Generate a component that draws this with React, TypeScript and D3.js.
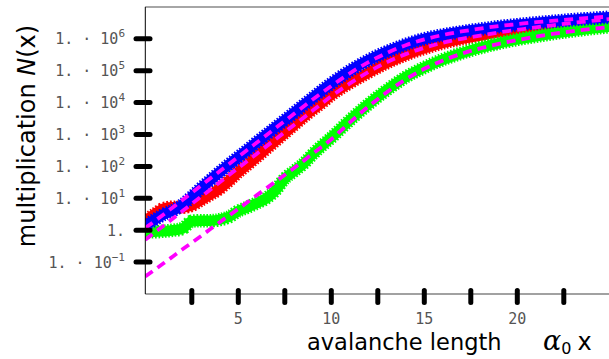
import React from "react";
import * as d3 from "d3";

// x grid for the measured (marker) series
const xData = [0, 0.5, 1, 1.5, 2, 2.5, 3, 3.5, 4, 4.5, 5, 5.5, 6, 6.5, 7, 7.5, 8, 8.5, 9, 9.5, 10, 11, 12, 13, 14, 15, 16, 17, 18, 19, 20, 21, 22, 23, 24, 25];
// log10 N(x)
const redLog = [0.3, 0.5, 0.68, 0.72, 0.72, 0.78, 0.95, 1.12, 1.3, 1.55, 1.82, 2.06, 2.3, 2.55, 2.8, 3.05, 3.3, 3.55, 3.78, 4.0, 4.24, 4.62, 4.95, 5.25, 5.5, 5.7, 5.87, 6.0, 6.1, 6.2, 6.28, 6.36, 6.43, 6.5, 6.56, 6.62];
const greenLog = [-0.05, -0.05, -0.03, 0.0, 0.05, 0.28, 0.3, 0.3, 0.33, 0.42, 0.6, 0.72, 0.85, 1.0, 1.25, 1.62, 1.85, 2.08, 2.38, 2.65, 2.9, 3.45, 3.95, 4.4, 4.8, 5.1, 5.35, 5.55, 5.72, 5.86, 5.98, 6.08, 6.17, 6.25, 6.32, 6.38];
const blueLog = [0.15, 0.33, 0.5, 0.62, 0.8, 1.05, 1.32, 1.57, 1.82, 2.06, 2.29, 2.52, 2.76, 2.99, 3.22, 3.45, 3.68, 3.92, 4.15, 4.38, 4.6, 5.0, 5.33, 5.6, 5.82, 6.0, 6.12, 6.22, 6.3, 6.38, 6.44, 6.5, 6.55, 6.6, 6.64, 6.68];

// fitted (dashed) curves
const xFit = [0, 1, 2, 3, 4, 5, 6, 7, 8, 9, 10, 11, 12, 13, 14, 15, 16, 17, 18, 19, 20, 21, 22, 23, 24, 25];
const fitRedLog = [-0.3, 0.15, 0.6, 1.05, 1.5, 1.95, 2.4, 2.85, 3.3, 3.75, 4.2, 4.6, 4.96, 5.27, 5.52, 5.72, 5.88, 6.0, 6.1, 6.2, 6.28, 6.36, 6.43, 6.5, 6.56, 6.62];
const fitGreenLog = [-1.45, -1.03, -0.6, -0.18, 0.25, 0.67, 1.1, 1.52, 1.95, 2.4, 2.85, 3.38, 3.88, 4.33, 4.73, 5.06, 5.32, 5.53, 5.7, 5.84, 5.96, 6.07, 6.16, 6.24, 6.31, 6.37];
const fitBlueLog = [0.07, 0.5, 0.95, 1.4, 1.85, 2.3, 2.75, 3.2, 3.65, 4.1, 4.52, 4.92, 5.27, 5.56, 5.8, 5.98, 6.12, 6.23, 6.32, 6.4, 6.46, 6.52, 6.57, 6.62, 6.66, 6.7];

const yTickExps = [-1, 0, 1, 2, 3, 4, 5, 6];
const xTicks = [2.5, 5, 7.5, 10, 12.5, 15, 17.5, 20, 22.5];
const xTickLabels = [5, 10, 15, 20];

const seriesColors = ["#ff0000", "#00ff00", "#0000ff"];

export default function App() {
  const W = 609, H = 359;
  const left = 145.3, right = 610.3, top = 6.9, bottom = 294;
  const x = d3.scaleLinear().domain([0, 25]).range([left, right]);
  const y = d3.scaleLog().domain([1e-2, 1e7]).range([bottom, top]);

  const mk = (xsArr: number[], logs: number[]) =>
    xsArr.map((xv, i) => [xv, Math.pow(10, logs[i])] as [number, number]);

  const line = d3
    .line<[number, number]>()
    .x((d) => x(d[0]))
    .y((d) => y(d[1]))
    .curve(d3.curveMonotoneX);

  const data = [mk(xData, redLog), mk(xData, greenLog), mk(xData, blueLog)];
  const fits = [mk(xFit, fitRedLog), mk(xFit, fitGreenLog), mk(xFit, fitBlueLog)];

  const mono = "'DejaVu Sans Mono', monospace";
  const sans = "'DejaVu Sans', sans-serif";

  return (
    <svg width={W} height={H} style={{ position: "absolute", left: 0, top: 0, background: "#fff" }}>
      <defs>
        <clipPath id="plotclip">
          <rect x={left} y={top} width={right - left} height={bottom - top} />
        </clipPath>
      </defs>
      <rect x={0} y={0} width={W} height={H} fill="#fff" />
      <g clipPath="url(#plotclip)">
        {data.map((d, i) => (
          <g key={i}>
            <path d={line(d) || ""} fill="none" stroke={seriesColors[i]} strokeWidth={13.5} strokeDasharray="1.6 1.6" />
            <path d={line(d) || ""} fill="none" stroke={seriesColors[i]} strokeWidth={10.5} strokeLinejoin="round" />
          </g>
        ))}
        {fits.map((d, i) => (
          <path key={i} d={line(d) || ""} fill="none" stroke="#ff00ff" strokeWidth={3.8} strokeDasharray="9 6" />
        ))}
      </g>
      {/* frame */}
      <line x1={left} x2={W} y1={top} y2={top} stroke="#888" strokeWidth={1.5} />
      <line x1={left} x2={W} y1={bottom} y2={bottom} stroke="#444" strokeWidth={1.2} />
      <line x1={left} x2={left} y1={top} y2={bottom} stroke="#000" strokeWidth={1} />
      {/* y ticks */}
      {yTickExps.map((e) => {
        const yy = y(Math.pow(10, e));
        return (
          <g key={e}>
            <line x1={136} x2={150} y1={yy} y2={yy} stroke="#000" strokeWidth={5} strokeLinecap="round" />
            <text x={125} y={yy + 5.5} textAnchor="end" fontFamily={mono} fontSize={15} fill="#555">
              {e === 0 ? (
                "1."
              ) : (
                <>
                  {"1. \u00b7 10"}
                  <tspan fontSize={11} dy={-7}>{e === -1 ? "\u22121" : String(e)}</tspan>
                </>
              )}
            </text>
          </g>
        );
      })}
      {/* x ticks */}
      {xTicks.map((t) => (
        <line key={t} x1={x(t)} x2={x(t)} y1={290.5} y2={302.5} stroke="#000" strokeWidth={5} strokeLinecap="round" />
      ))}
      {xTickLabels.map((t) => (
        <text key={t} x={x(t)} y={324} textAnchor="middle" fontFamily={mono} fontSize={15} fill="#555">
          {t}
        </text>
      ))}
      {/* axis titles */}
      <text x={307} y={350} fontFamily={sans} fontSize={22.5} fill="#000">
        avalanche length
      </text>
      <text x={543} y={350} fontSize={24} fill="#000">
        <tspan fontFamily="'DejaVu Serif', serif" fontStyle="italic" fontSize={27}>{"\u03b1"}</tspan>
        <tspan fontFamily={sans} fontSize={16} dy={4}>0</tspan>
        <tspan fontFamily={sans} dy={-4} dx={6}>x</tspan>
      </text>
      <text
        transform={`translate(35,136) rotate(-90)`}
        textAnchor="middle"
        fontFamily={sans}
        fontSize={24}
        fill="#000"
      >
        {"multiplication "}
        <tspan fontStyle="italic">N</tspan>
        {"(x)"}
      </text>
    </svg>
  );
}
